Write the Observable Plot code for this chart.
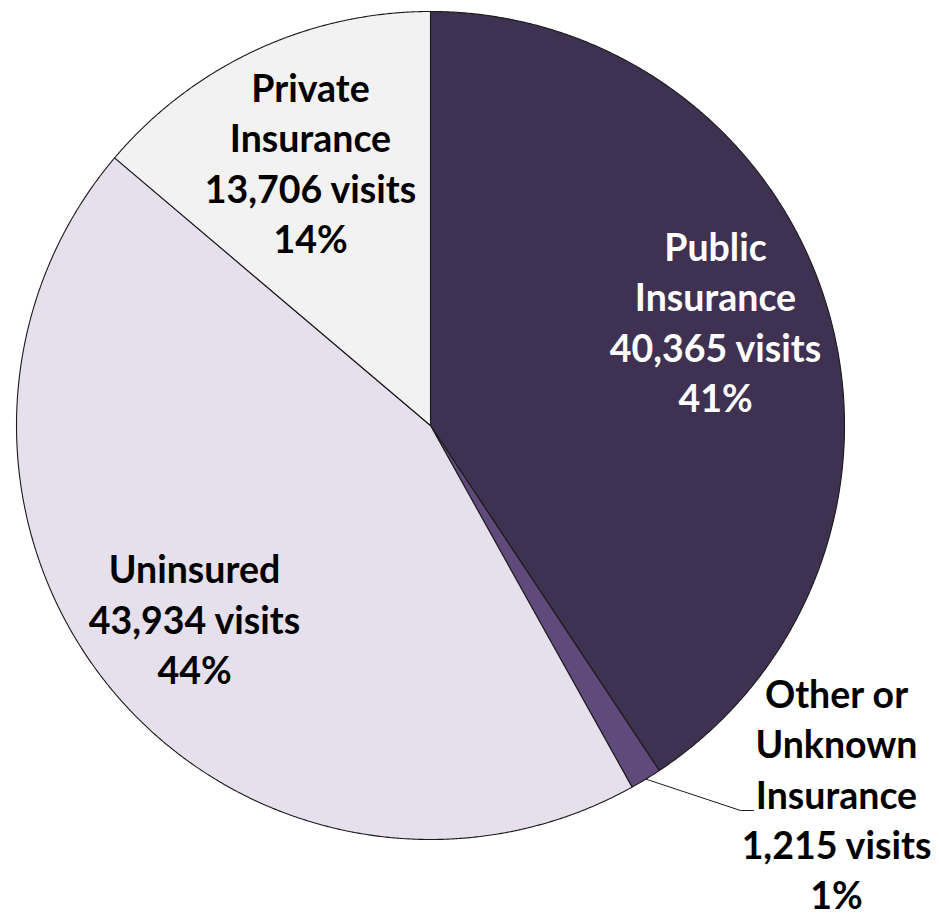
<!DOCTYPE html>
<html>
<head>
<meta charset="utf-8">
<script src="https://cdn.jsdelivr.net/npm/d3@7"></script>
<script src="https://cdn.jsdelivr.net/npm/@observablehq/plot@0.6"></script>
<style>
  html, body { margin: 0; padding: 0; background: #ffffff; }
  #chart svg { display: block; }
</style>
</head>
<body>
<div id="chart"></div>
<script>
// ---- data ----
const categories = ["Public Insurance", "Other or Unknown Insurance", "Uninsured", "Private Insurance"];
const labelNames = ["Public\nInsurance", "Other or\nUnknown\nInsurance", "Uninsured", "Private\nInsurance"];
const visits = [40365, 1215, 43934, 13706];
const percents = ["41%", "1%", "44%", "14%"];

// ---- styles / layout (kept apart from the data) ----
const colors = ["#3f3151", "#604a7b", "#e5e0ec", "#f2f2f2"];
const textColors = ["#ffffff", "#000000", "#000000", "#000000"];
const W = 939, H = 914;
const cx = 430, cy = 425, R = 414;          // pie centre & radius, pixels
const labelPixels = [[715, 320], [836, 792], [194, 617], [310, 161]]; // label block centres, pixels
const leaderIndex = 1;                       // slice whose label sits outside
const leaderElbowPixels = [[740, 810], [753, 810]];

const toUnit = ([px, py]) => ({x: (px - cx) / R, y: (cy - py) / R});

const total = d3.sum(visits);
const fmt = d3.format(",");

// slice polygons on unit circle, starting at 12 o'clock, clockwise
const slices = [];
const polys = [];
let acc = 0;
visits.forEach((v, i) => {
  const a0 = acc / total * 2 * Math.PI;
  acc += v;
  const a1 = acc / total * 2 * Math.PI;
  const n = Math.max(2, Math.ceil((a1 - a0) / (Math.PI / 720)));
  const pts = [{x: 0, y: 0}];
  for (let k = 0; k <= n; k++) {
    const a = a0 + (a1 - a0) * k / n;
    pts.push({x: Math.sin(a), y: Math.cos(a)});
  }
  pts.push({x: 0, y: 0});
  polys.push(pts);
  const p = toUnit(labelPixels[i]);
  slices.push({i, category: categories[i], am: (a0 + a1) / 2, x: p.x, y: p.y,
    text: `${labelNames[i]}\n${fmt(visits[i])} visits\n${percents[i]}`});
});

const outS = slices[leaderIndex];
const leader = [{x: Math.sin(outS.am), y: Math.cos(outS.am)}, ...leaderElbowPixels.map(toUnit)];

const textOpts = {
  fontFamily: "Lato, 'Open Sans', sans-serif",
  fontWeight: "bold",
  fontSize: 37.5,
  lineHeight: 1.34,
  textAnchor: "middle",
  lineAnchor: "middle"
};

const chart = Plot.plot({
  width: W,
  height: H,
  margin: 0,
  x: {type: "linear", domain: [-cx / R, (W - cx) / R], range: [0, W], axis: null},
  y: {type: "linear", domain: [(cy - H) / R, cy / R], range: [H, 0], axis: null},
  style: {background: "#ffffff"},
  marks: [
    ...polys.map((p, i) => Plot.line(p, {x: "x", y: "y", fill: colors[i], stroke: "#1a1a1a", strokeWidth: 1.1, strokeLinejoin: "round", curve: "linear"})),
    Plot.line(leader, {x: "x", y: "y", stroke: "#1a1a1a", strokeWidth: 1}),
    Plot.text(slices, {x: "x", y: "y", text: "text", fill: d => textColors[d.i], ...textOpts})
  ]
});

document.getElementById("chart").appendChild(chart);
</script>
</body>
</html>
